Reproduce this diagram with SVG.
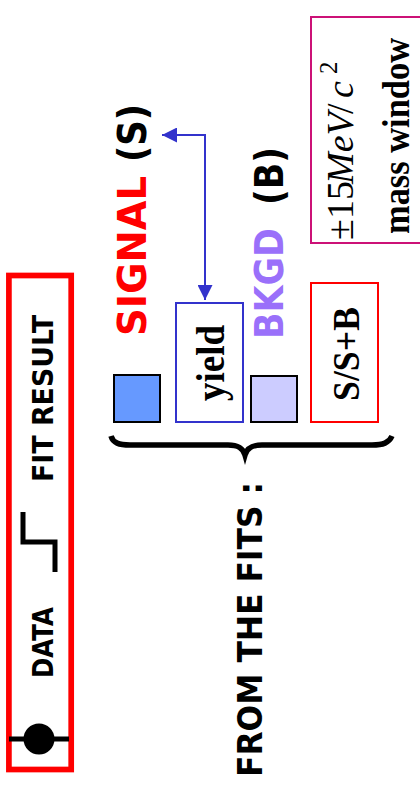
<svg xmlns="http://www.w3.org/2000/svg" width="420" height="793" viewBox="0 0 420 793">
<defs>
<style>
.sans{font-family:"DejaVu Sans","Liberation Sans",sans-serif;font-weight:bold}
.serif{font-family:"Liberation Serif","DejaVu Serif",serif}
.b{font-weight:bold}
.i{font-style:italic}
</style>
<marker id="ah" markerUnits="userSpaceOnUse" viewBox="0 0 15 15" markerWidth="15" markerHeight="15" refX="15" refY="7.5" orient="auto-start-reverse">
<path d="M0,0 L15,7.5 L0,15 z" fill="#3333cc"/>
</marker>
</defs>
<rect width="420" height="793" fill="#ffffff"/>

<g id="legend">
<rect x="8.9" y="275.5" width="62.3" height="494" fill="none" stroke="#ff0000" stroke-width="5.7"/>
<line x1="9" y1="739" x2="69" y2="739" stroke="#000" stroke-width="5"/>
<circle cx="39" cy="739" r="15.5" fill="#000"/>
<text class="sans" font-size="28" transform="translate(53,678) rotate(-90)" textLength="71" lengthAdjust="spacingAndGlyphs">DATA</text>
<path d="M23,512 V542 H55 V572" fill="none" stroke="#000" stroke-width="5"/>
<text class="sans" font-size="28" transform="translate(53,482) rotate(-90)" textLength="167" lengthAdjust="spacingAndGlyphs">FIT RESULT</text>
</g>

<g id="from-fits">
<text class="sans" font-size="33" transform="translate(262,777) rotate(-90)" textLength="295" lengthAdjust="spacingAndGlyphs">FROM THE FITS :</text>
</g>

<g id="brace">
<path d="M111,436 C113,443 119,445 130,445 L228,445 C238,445 243,448 245,455 C247,448 252,445 262,445 L372,445 C383,445 389,443 392,436" fill="none" stroke="#000" stroke-width="5.5"/>
</g>

<g id="signal">
<rect x="114" y="375" width="46" height="47" fill="#6699ff" stroke="#000" stroke-width="2"/>
<text class="sans" font-size="39" fill="#ff0000" transform="translate(146,336) rotate(-90)" textLength="160" lengthAdjust="spacingAndGlyphs">SIGNAL</text>
<text class="sans" font-size="39" fill="#000" transform="translate(146,162) rotate(-90)" textLength="58" lengthAdjust="spacingAndGlyphs">(S)</text>
</g>

<g id="yield">
<rect x="176" y="303" width="67" height="119" fill="#fff" stroke="#3333cc" stroke-width="2"/>
<text class="serif b" font-size="40" transform="translate(224,401) rotate(-90)" textLength="76" lengthAdjust="spacingAndGlyphs">yield</text>
</g>

<g id="bkgd">
<rect x="251" y="376" width="46" height="46" fill="#ccccff" stroke="#000" stroke-width="2"/>
<text class="sans" font-size="39" fill="#9a70fa" transform="translate(283,339) rotate(-90)" textLength="111" lengthAdjust="spacingAndGlyphs">BKGD</text>
<text class="sans" font-size="39" fill="#000" transform="translate(283,205) rotate(-90)" textLength="58" lengthAdjust="spacingAndGlyphs">(B)</text>
</g>

<g id="ratio">
<rect x="311" y="283" width="67" height="139" fill="#fff" stroke="#ff0000" stroke-width="2"/>
<text class="serif b" font-size="37" transform="translate(359,401) rotate(-90)" textLength="94" lengthAdjust="spacingAndGlyphs">S/S+B</text>
</g>

<g id="mass-window">
<rect x="311" y="17" width="112" height="226" fill="#fff" stroke="#cc1177" stroke-width="2"/>
<text class="serif" font-size="38" transform="translate(353,240) rotate(-90)"><tspan x="0">±</tspan><tspan x="21">15</tspan><tspan x="56" class="i">MeV</tspan><tspan x="126">/</tspan><tspan x="142" class="i">c</tspan><tspan x="166" dy="-16" font-size="25">2</tspan></text>
<text class="serif b" font-size="38" transform="translate(409,234) rotate(-90)" textLength="196" lengthAdjust="spacingAndGlyphs">mass window</text>
</g>

<g id="connectors">
<path d="M162,135 H205 V300" fill="none" stroke="#3333cc" stroke-width="2" marker-start="url(#ah)" marker-end="url(#ah)"/>
</g>
</svg>
